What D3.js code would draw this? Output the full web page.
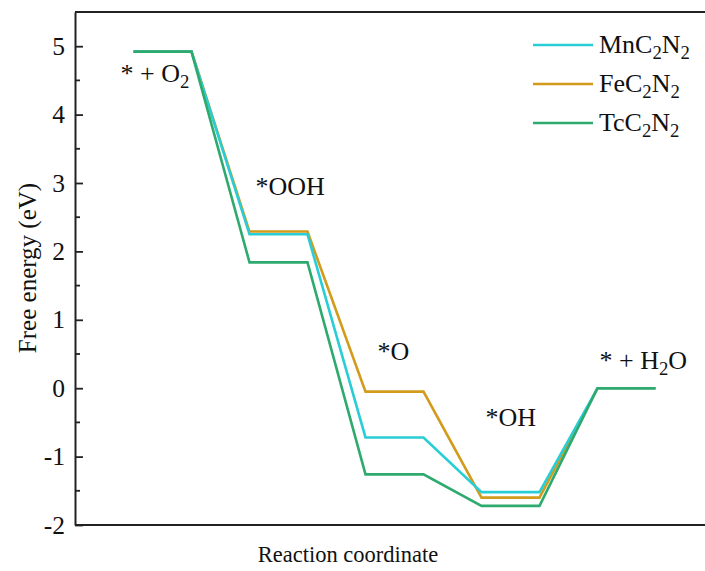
<!DOCTYPE html>
<html>
<head>
<meta charset="utf-8">
<script src="https://cdn.jsdelivr.net/npm/d3@7"></script>
<style>
  html, body { margin: 0; padding: 0; background: #fff; }
  svg { display: block; }
  svg text, svg tspan { font-family: 'Liberation Serif', 'Times New Roman', Times, 'DejaVu Serif', serif !important; fill: #111; }
</style>
</head>
<body>
<svg id="chart" width="705" height="571"></svg>
<script>
// ---- data ----
const steps = ["* + O2", "*OOH", "*O", "*OH", "* + H2O"];
const seriesNames = ["FeC2N2", "MnC2N2", "TcC2N2"];
const feValues = [4.92, 2.29, -0.05, -1.60, 0.00];
const mnValues = [4.92, 2.25, -0.72, -1.52, 0.00];
const tcValues = [4.92, 1.84, -1.26, -1.72, 0.00];
const yTicks = [-2, -1, 0, 1, 2, 3, 4, 5];
const yMinorTicks = [-1.5, -0.5, 0.5, 1.5, 2.5, 3.5, 4.5];
const legendOrder = ["MnC2N2", "FeC2N2", "TcC2N2"];

// ---- layout ----
const W = 705, H = 571;
const plotLeft = 75, plotTop = 12, plotBottom = 525;
const FONT = "'Liberation Serif', 'Times New Roman', serif";
const LABEL_SIZE = 26;
const SUB_RATIO = 0.72;
const colors = { MnC2N2: "#29CDD5", FeC2N2: "#D29B1B", TcC2N2: "#2FAA6F" };
const valuesBy = { FeC2N2: feValues, MnC2N2: mnValues, TcC2N2: tcValues };

const svg = d3.select("#chart").attr("font-family", FONT);
const x = d3.scaleLinear().domain([0, 4]).range([162.5, 626.5]);
const y = d3.scaleLinear().domain([-2, 5.5]).range([plotBottom, plotTop]);
const half = 0.25;

// frame lines (top, bottom)
const frame = svg.append("g").attr("stroke", "#222").attr("stroke-width", 2);
frame.append("line").attr("x1", plotLeft).attr("x2", W + 5).attr("y1", plotTop).attr("y2", plotTop);
frame.append("line").attr("x1", plotLeft).attr("x2", W + 5).attr("y1", plotBottom).attr("y2", plotBottom);

// y axis
const yAxis = d3.axisLeft(y).tickValues(yTicks).tickSizeInner(-8).tickSizeOuter(0).tickPadding(10)
  .tickFormat(d => d < 0 ? "-" + Math.abs(d) : String(d));
const gy = svg.append("g").attr("transform", `translate(${plotLeft},0)`).call(yAxis)
  .attr("font-family", FONT);
gy.select(".domain").attr("stroke", "#222").attr("stroke-width", 2);
gy.selectAll(".tick line").attr("stroke", "#222").attr("stroke-width", 1.8);
gy.selectAll(".tick text").attr("font-size", 25.5).attr("font-family", FONT).attr("fill", "#111");
// minor ticks
svg.append("g").selectAll("line").data(yMinorTicks).join("line")
  .attr("x1", plotLeft).attr("x2", plotLeft + 5)
  .attr("y1", d => y(d)).attr("y2", d => y(d))
  .attr("stroke", "#222").attr("stroke-width", 1.8);

// series lines
const line = d3.line().x(d => x(d[0])).y(d => y(d[1]));
seriesNames.forEach(name => {
  const pts = [];
  valuesBy[name].forEach((v, i) => { pts.push([i - half, v]); pts.push([i + half, v]); });
  svg.append("path").datum(pts).attr("d", line)
    .attr("fill", "none").attr("stroke", colors[name]).attr("stroke-width", 2.6)
    .attr("stroke-linejoin", "miter");
});

// chemistry text with subscripts
function chem(sel, str, size) {
  const parts = str.split(/(\d)/).filter(p => p !== "");
  let shifted = 0;
  parts.forEach(p => {
    const ts = sel.append("tspan").attr("font-family", FONT);
    if (/\d/.test(p)) {
      ts.attr("font-size", size * SUB_RATIO).attr("dy", size * 0.22 - shifted).text(p);
      shifted = size * 0.22;
    } else {
      ts.attr("font-size", size).attr("dy", -shifted).text(p);
      shifted = 0;
    }
  });
}

// step labels
const labelLayout = [
  { dx: -13, yPix: 82 },
  { dx: 6, yPix: 195 },
  { dx: 12, yPix: 360 },
  { dx: 4, yPix: 426 },
  { dx: 2, yPix: 369 }
];
steps.forEach((s, i) => {
  const t = svg.append("text").attr("font-family", FONT).attr("font-size", LABEL_SIZE)
    .attr("x", x(i - half) + labelLayout[i].dx).attr("y", labelLayout[i].yPix);
  chem(t, s, LABEL_SIZE);
});

// legend
const lg = svg.append("g");
legendOrder.forEach((name, i) => {
  const ly = 45 + i * 39;
  lg.append("line").attr("x1", 533).attr("x2", 593).attr("y1", ly).attr("y2", ly)
    .attr("stroke", colors[name]).attr("stroke-width", 2.6);
  const t = lg.append("text").attr("font-family", FONT).attr("font-size", LABEL_SIZE).attr("x", 599).attr("y", ly + 8);
  chem(t, name, LABEL_SIZE);
});

// axis titles
svg.append("text").attr("font-family", FONT).attr("x", 348).attr("y", 562).attr("text-anchor", "middle")
  .attr("font-size", 22.5).text("Reaction coordinate");
svg.append("text").attr("font-family", FONT).attr("transform", "translate(36,268) rotate(-90)").attr("text-anchor", "middle")
  .attr("font-size", 25).text("Free energy (eV)");
</script>
</body>
</html>
